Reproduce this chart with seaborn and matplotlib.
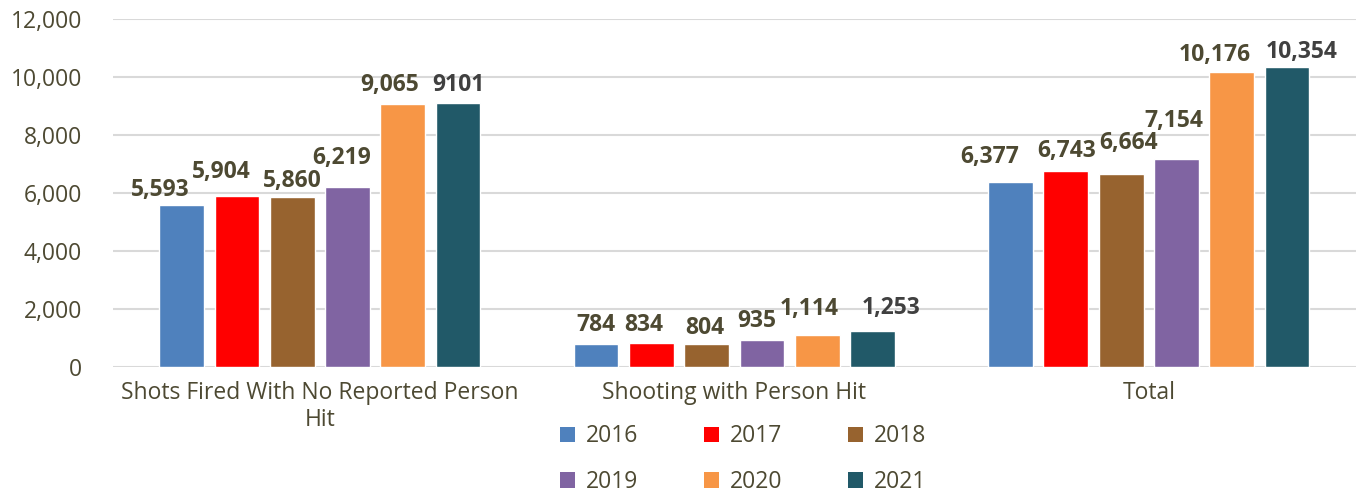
import matplotlib
matplotlib.use('Agg')
import matplotlib.pyplot as plt
import numpy as np
import pandas as pd
import seaborn as sns
from matplotlib.patches import Patch

# Data
categories = ['Shots Fired With No Reported Person\nHit', 'Shooting with Person Hit', 'Total']
years = ['2016', '2017', '2018', '2019', '2020', '2021']
v2016 = [5593, 784, 6377]
v2017 = [5904, 834, 6743]
v2018 = [5860, 804, 6664]
v2019 = [6219, 935, 7154]
v2020 = [9065, 1114, 10176]
v2021 = [9101, 1253, 10354]
# 2021 first-group label was shown without thousands separator
label_text = {('2021', 0): '9101'}

colors = ['#4f81bd', '#ff0000', '#97632f', '#8064a2', '#f79646', '#215968']
text_col = '#4d4932'

# label nudges in pixels (dx, gap above bar), per year, per category
label_dx = {'2016': [-21, 0, -21], '2017': [-16, -8, 1], '2018': [0, -2, 7],
            '2019': [-6, -5, -3], '2020': [-13, -8, -17], '2021': [0, 19, 15]}
label_dy = {'2016': [9, 13, 19], '2017': [18, 12, 14], '2018': [10, 10, 25],
            '2019': [23, 13, 32], '2020': [13, 20, 11], '2021': [12, 17, 9]}

rows = []
for yr, vals in zip(years, [v2016, v2017, v2018, v2019, v2020, v2021]):
    for c, v in zip(categories, vals):
        rows.append({'category': c, 'year': yr, 'count': v})
df = pd.DataFrame(rows)

sns.set_style('white')
plt.rcParams['font.family'] = ['Open Sans', 'DejaVu Sans']

fig = plt.figure(figsize=(13.56, 4.96), dpi=100)
ax = fig.add_axes([0.083, 0.26, 0.917, 0.702])

sns.barplot(data=df, x='category', y='count', hue='year', order=categories,
            hue_order=years, palette=colors, width=0.8, gap=0.19,
            saturation=1, ax=ax, legend=False, zorder=3)

ax.set_ylim(0, 12000)
ax.set_yticks(np.arange(0, 12001, 2000))
ax.set_yticklabels([f'{t:,}' for t in range(0, 12001, 2000)])
ax.grid(axis='y', color='#d9d9d9', linewidth=1.5, zorder=0)
ax.set_axisbelow(True)
for s in ax.spines.values():
    s.set_visible(False)
ax.set_xlabel('')
ax.set_ylabel('')
ax.tick_params(axis='both', length=0, labelsize=16.5, colors=text_col)
ax.tick_params(axis='x', pad=10)
ax.tick_params(axis='y', pad=22)
for t in ax.get_xticklabels():
    t.set_linespacing(1.15)

# value labels
for yr, cont in zip(years, ax.containers):
    for i, bar in enumerate(cont):
        h = bar.get_height()
        txt = label_text.get((yr, i), f'{int(h):,}')
        ax.annotate(txt, (bar.get_x() + bar.get_width() / 2, h),
                    xytext=(label_dx[yr][i], label_dy[yr][i]),
                    textcoords='offset pixels',
                    ha='center', va='baseline', fontsize=16.5,
                    fontweight='bold',
                    color='#404040' if yr == '2021' else text_col)

handles = [Patch(facecolor=c, edgecolor='none', label=y) for c, y in zip(colors, years)]
# matplotlib fills legend columns first; reorder so rows read 2016-2018, 2019-2021
order = [0, 3, 1, 4, 2, 5]
fig.legend(handles=[handles[k] for k in order], loc='center',
           bbox_to_anchor=(0.548, 0.074), ncol=3,
           frameon=False, fontsize=16.5, handlelength=0.65, handleheight=0.65,
           handletextpad=0.45, columnspacing=2.9, labelspacing=0.95,
           labelcolor=text_col)

fig.savefig('out.png', dpi=100)
